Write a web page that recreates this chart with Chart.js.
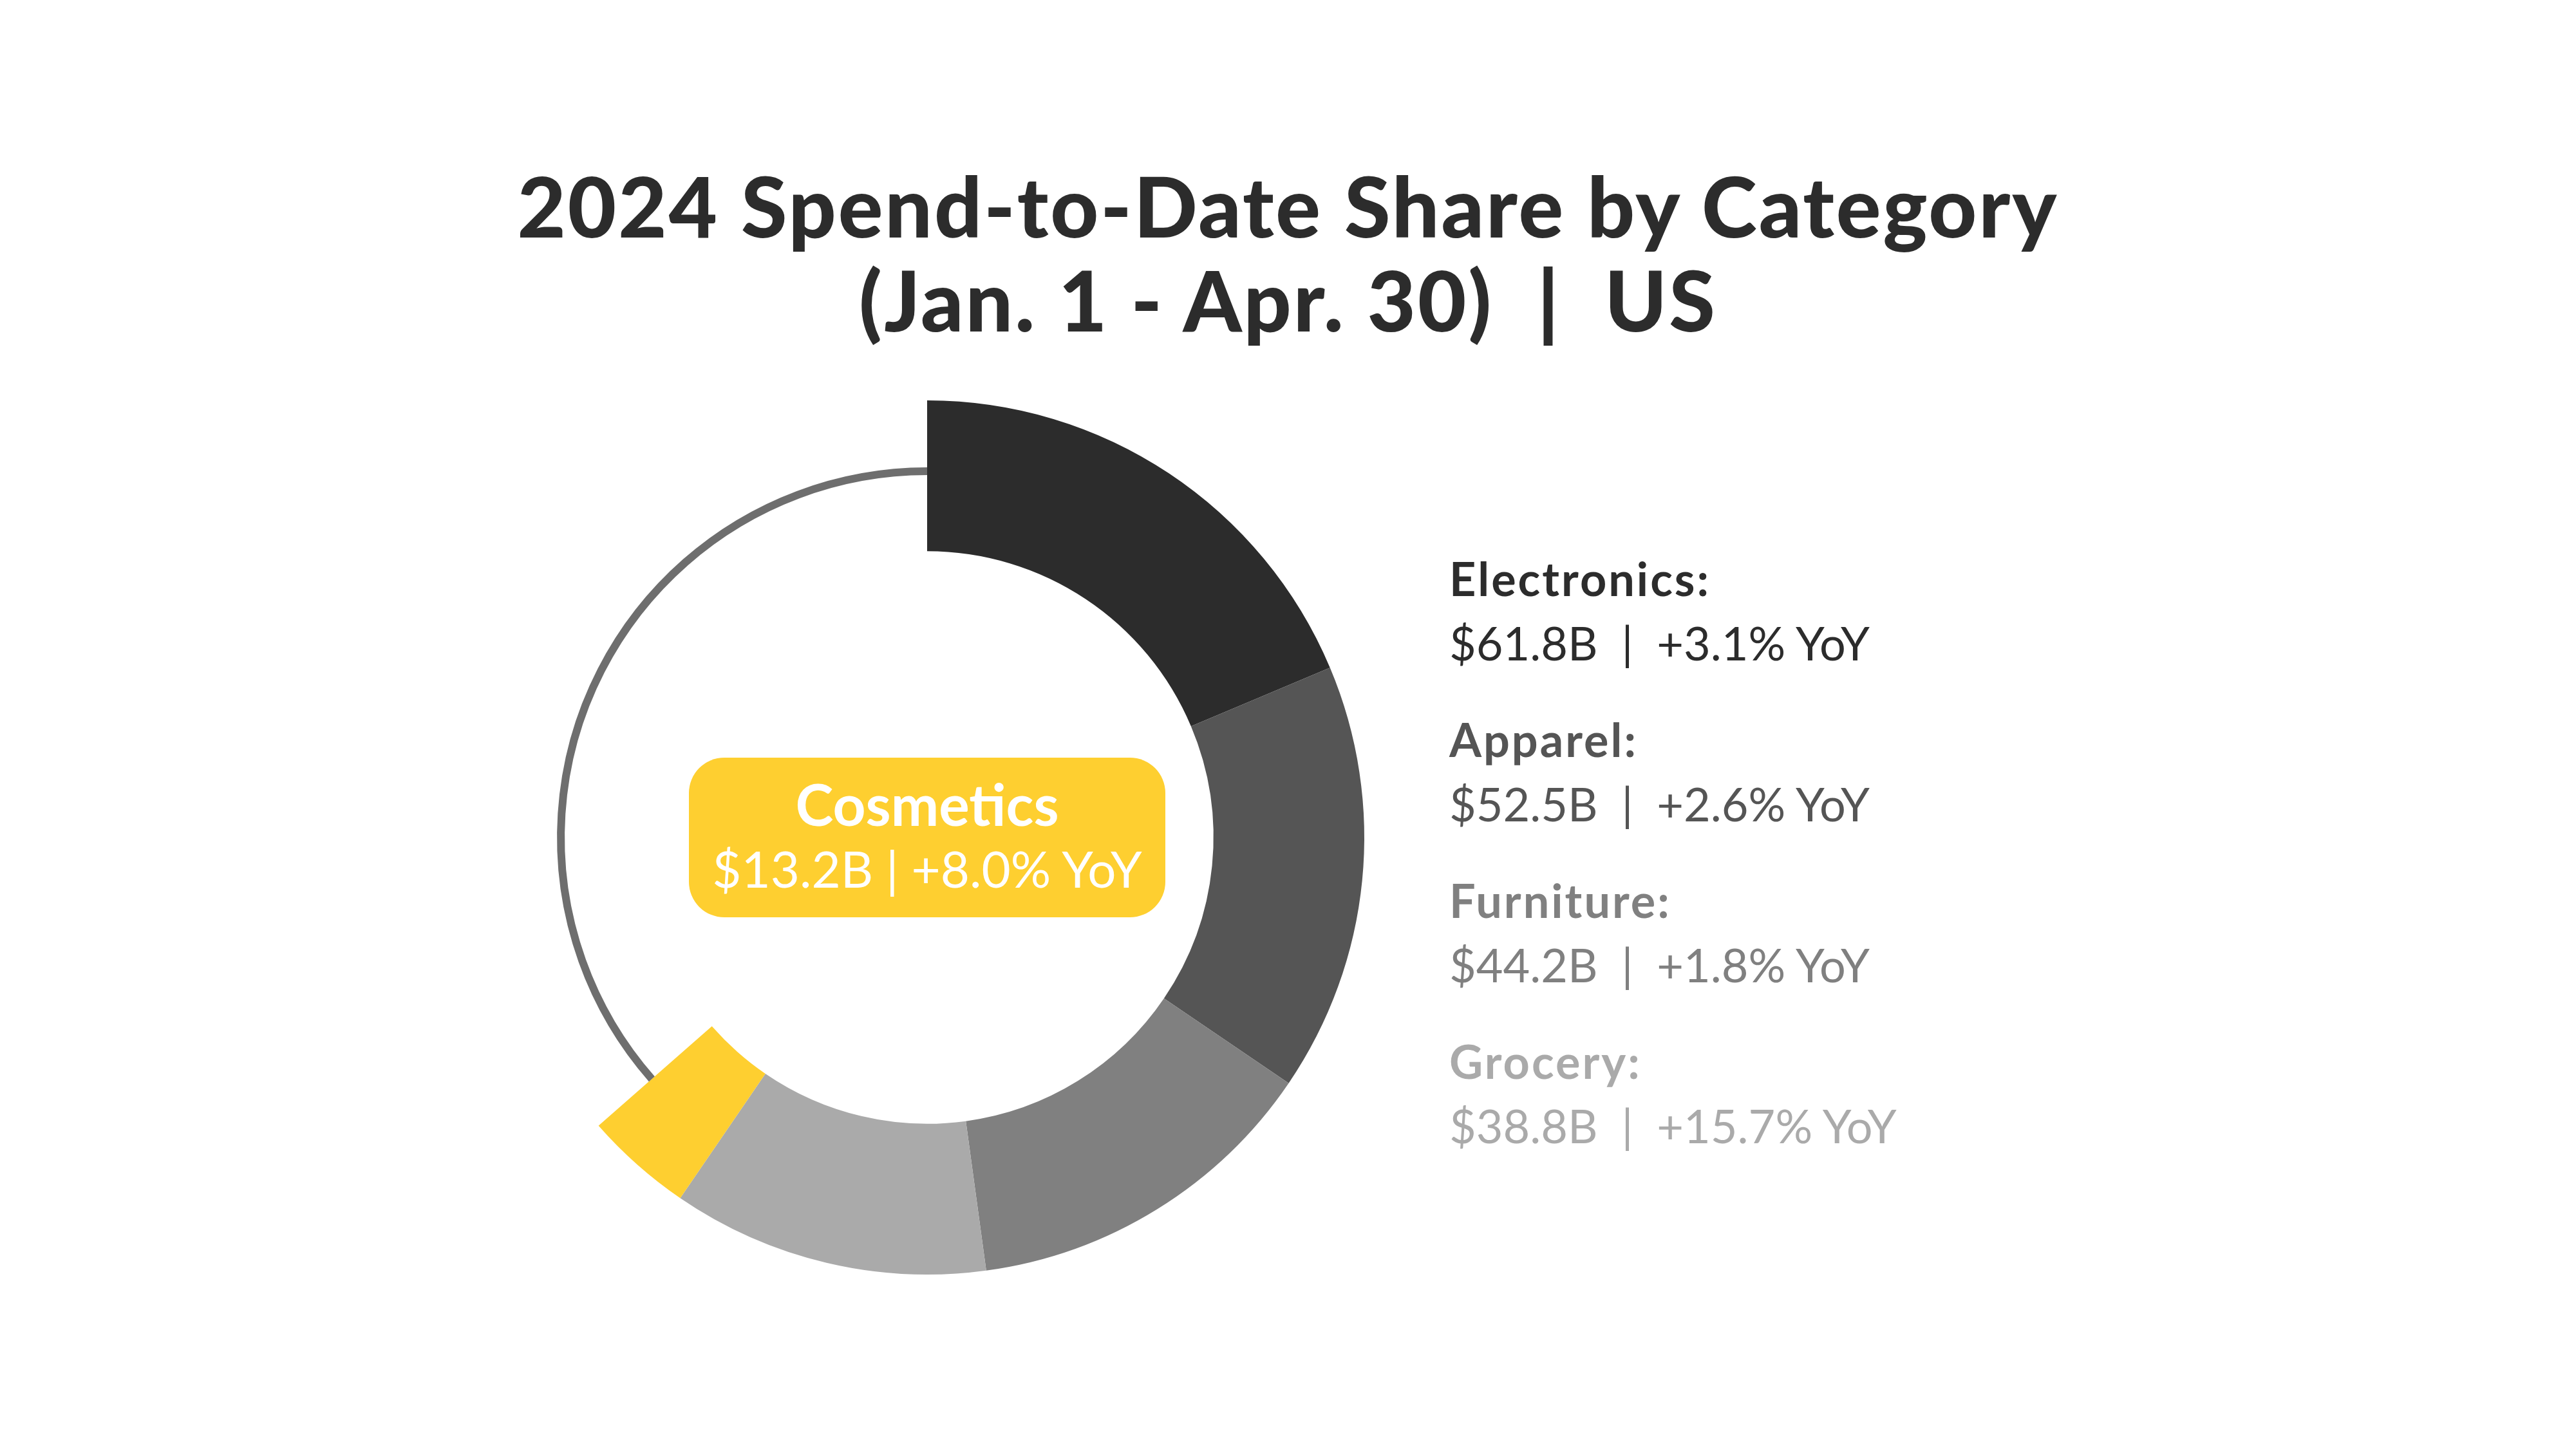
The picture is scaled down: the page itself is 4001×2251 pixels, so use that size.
<!DOCTYPE html>
<html>
<head>
<meta charset="utf-8">
<script src="https://cdn.jsdelivr.net/npm/chart.js@4.4.1/dist/chart.umd.min.js"></script>
<style>
  html, body { margin: 0; padding: 0; background: #fff; }
  body { width: 4001px; height: 2251px; position: relative; overflow: hidden; font-family: Lato, "Open Sans", sans-serif; }
  #chart { position: absolute; left: 0; top: 0; }
  .title { position: absolute; left: 0; width: 4001px; top: 246px; text-align: center; color: #2c2c2c;
           font-weight: 900; font-size: 130px; line-height: 146px; letter-spacing: 3px; white-space: pre; }
  .leg { position: absolute; left: 2251px; font-size: 72px; line-height: 100px; }
  .leg .name { font-weight: 700; letter-spacing: 3px; }
  .leg .val { font-weight: 400; white-space: pre; }
  #callout { position: absolute; width: 740px; height: 248px; border-radius: 55px; background: #fecf30;
             color: #fff; text-align: center; white-space: pre; }
  #callout .name { font-weight: 700; font-size: 89px; line-height: 100px; margin-top: 22px; }
  #callout .val { font-weight: 400; font-size: 78px; line-height: 100px; }
</style>
</head>
<body>
<canvas id="chart" width="4001" height="2251"></canvas>
<div class="title">2024 Spend-to-Date Share by Category
(Jan. 1 - Apr. 30)  |  US</div>
<div id="legend"></div>
<div id="callout"><div class="name"></div><div class="val"></div></div>
<script>
// ===== 数据 =====
const categories = ['Electronics', 'Apparel', 'Furniture', 'Grocery', 'Cosmetics', 'Other'];
const spend      = [61.8, 52.5, 44.2, 38.8, 13.2, 120.8];   // $B, Jan 1 - Apr 30
const yoy        = ['+3.1%', '+2.6%', '+1.8%', '+15.7%', '+8.0%', ''];
const colors     = ['#2c2c2c', '#555555', '#808080', '#aaaaaa', '#fecf30', 'rgba(0,0,0,0)'];
const highlight  = 4;          // Cosmetics 放在中间的黄色标签
const restColor  = '#6e6e6e';  // 其余部分只画细线

// 剩余部分的细圆弧（画在环的中间）
const restArcPlugin = {
  id: 'restArc',
  afterDatasetsDraw(chart) {
    const arc = chart.getDatasetMeta(0).data[categories.length - 1];
    if (!arc) return;
    const { x, y, startAngle, endAngle, innerRadius, outerRadius } = arc.getProps(
      ['x', 'y', 'startAngle', 'endAngle', 'innerRadius', 'outerRadius'], true);
    const r = innerRadius + (outerRadius - innerRadius) * 0.53;
    const ctx = chart.ctx;
    ctx.save();
    ctx.beginPath();
    ctx.arc(x, y, r, startAngle, endAngle);
    ctx.lineWidth = 12;
    ctx.strokeStyle = restColor;
    ctx.lineCap = 'butt';
    ctx.stroke();
    ctx.restore();
  },
};

const chart = new Chart(document.getElementById('chart'), {
  type: 'doughnut',
  plugins: [restArcPlugin],
  data: {
    labels: categories,
    datasets: [{
      data: spend,
      backgroundColor: colors,
      borderWidth: 0,
      hoverOffset: 0,
    }],
  },
  options: {
    responsive: false,
    animation: false,
    cutout: '65.5%',
    layout: { padding: { left: 761, right: 1882, top: 622, bottom: 271 } },
    plugins: { legend: { display: false }, tooltip: { enabled: false } },
  },
});

// ===== 右侧图例 =====
const legendEl = document.getElementById('legend');
categories.slice(0, 4).forEach((c, i) => {
  const top = 848 + i * 250;
  legendEl.insertAdjacentHTML('beforeend',
    `<div class="leg" style="top:${top}px;color:${colors[i]}">` +
    `<div class="name">${c}:</div>` +
    `<div class="val">$${spend[i]}B  |  ${yoy[i]} YoY</div></div>`);
});

// ===== 中间标签，跟随圆心 =====
const center = chart.getDatasetMeta(0).data[0];
const callout = document.getElementById('callout');
callout.querySelector('.name').textContent = categories[highlight];
callout.querySelector('.val').textContent = `$${spend[highlight].toFixed(1)}B | ${yoy[highlight]} YoY`;
callout.style.left = (center.x - 370) + 'px';
callout.style.top = (center.y - 124) + 'px';
</script>
</body>
</html>
